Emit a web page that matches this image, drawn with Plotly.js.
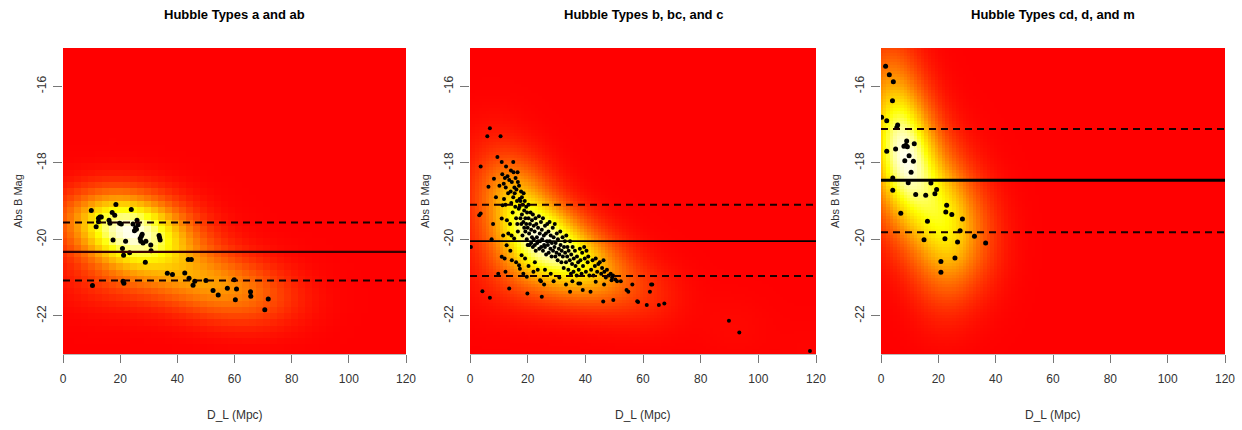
<!DOCTYPE html>
<html>
<head>
<meta charset="utf-8">
<script src="https://cdn.plot.ly/plotly-3.0.1.min.js"></script>
<style>html,body{margin:0;padding:0;background:#fff;}#chart{width:1242px;height:430px;}</style>
</head>
<body>
<div id="chart"></div>
<script>
// ---------- DATA ----------
var panelTitles = ["Hubble Types a and ab", "Hubble Types b, bc, and c", "Hubble Types cd, d, and m"];
var xTickVals = [0, 20, 40, 60, 80, 100, 120];
var xTickText = ["0", "20", "40", "60", "80", "100", "120"];
var yTickVals = [-16, -18, -20, -22];
var yTickText = ["-16", "-18", "-20", "-22"];
var xAxisLabel = "D_L (Mpc)";
var yAxisLabel = "Abs B Mag";

// Panel 1: types a and ab
var x1 = [9.9,10.3,11.6,12.4,12.9,13.4,12.4,16.1,16.4,17.2,17.5,18.1,18.5,19.8,20.4,20.8,21.2,21.0,21.3,21.9,
          23.3,23.9,24.5,25.0,25.4,25.7,25.9,26.3,27.0,27.4,27.7,28.0,27.2,29.0,28.8,30.7,30.8,33.6,33.8,34.0,
          36.5,38.3,42.6,43.8,44.9,44.1,45.5,46.1,50.0,52.5,54.3,57.5,59.9,60.3,60.7,65.6,65.7,70.6,71.8];
var y1 = [-19.25,-21.21,-19.67,-19.45,-19.42,-19.42,-19.54,-19.5,-19.58,-19.3,-20.02,-19.37,-19.09,-19.58,-19.6,-20.24,-20.42,-21.1,-21.15,-20.05,
          -20.35,-19.22,-19.6,-19.78,-19.7,-19.74,-19.5,-19.62,-19.98,-19.92,-19.87,-20.1,-20.05,-20.05,-20.6,-20.15,-20.3,-19.9,-19.96,-20.02,
          -20.89,-20.92,-20.88,-20.53,-20.53,-21.02,-21.2,-21.1,-21.08,-21.34,-21.46,-21.28,-21.06,-21.58,-21.3,-21.37,-21.49,-21.84,-21.56];

// Panel 2: types b, bc and c
var x2 = [
  0.3,3.7,3.2,3.7,4.3,6.0,6.4,6.9,6.9,8.3,9.5,9.8,10.6,11.0,11.0,11.0,11.3,12.3,12.7,13.3,
  13.6,14.5,15.0,15.3,17.0,17.3,17.9,19.1,19.7,19.9,22.0,24.3,24.6,24.9,25.7,33.3,34.7,37.6,38.2,39.1,
  41.8,43.6,46.2,46.5,49.7,49.1,52.3,54.3,54.9,56.3,58.0,58.3,61.3,62.4,62.8,63.2,65.5,67.4,89.8,93.4,117.9,
  11.5,12.0,14.0,16.0,18.5,20.3,22.5,23.5,26.0,28.0,29.0,31.0,35.5,
  12.5,14.2,16.5,10.2,9.0,8.0,7.5,
  11.2,11.7,12.1,12.4,13.0,11.8,12.3,12.8,13.2,
  13.6,14.1,14.3,14.5,14.8,15.0,13.9,14.4,
  15.1,15.4,15.5,15.7,15.8,16.0,16.1,16.3,16.4,16.6,16.6,16.9,
  17.0,17.2,17.2,17.5,17.5,17.7,17.8,18.0,18.0,18.2,18.3,18.5,18.6,18.8,18.8,
  19.0,19.2,19.2,19.5,19.5,19.7,19.8,20.0,20.0,20.3,20.3,20.5,20.6,20.8,
  21.0,21.2,21.2,21.5,21.5,21.8,21.8,22.1,22.1,22.4,22.5,22.7,22.8,
  23.0,23.2,23.3,23.6,23.6,23.9,24.0,24.2,24.3,24.6,24.7,24.9,
  25.0,25.3,25.3,25.6,25.7,26.0,26.0,26.3,26.4,26.7,26.8,
  27.0,27.2,27.3,27.6,27.6,27.9,28.0,28.3,28.4,28.7,28.8,
  29.0,29.3,29.4,29.6,29.7,30.0,30.1,30.4,30.5,30.8,
  31.0,31.3,31.4,31.7,31.8,32.1,32.2,32.5,32.6,32.9,
  33.0,33.3,33.4,33.7,33.8,34.1,34.2,34.6,34.7,35.0,
  35.1,35.4,35.6,35.9,36.0,36.4,36.6,37.0,
  37.1,37.5,37.7,38.1,38.3,38.7,38.9,
  39.2,39.6,39.8,40.2,40.4,40.8,41.0,41.4,
  42.0,42.5,42.8,43.3,43.6,44.1,44.5,
  45.0,45.5,45.8,46.3,46.6,47.1,47.5,48.1,
  48.8,49.3,49.6,50.4,51.0];
var y2 = [
  -20.2,-18.1,-19.37,-19.33,-21.36,-17.31,-18.63,-17.1,-21.53,-18.42,-17.85,-20.9,-17.31,-17.98,-19.46,-20.46,-19.11,-20.85,-20.16,-19.85,
  -21.29,-20.55,-17.98,-19.98,-20.68,-20.77,-20.42,-20.5,-20.98,-21.42,-20.85,-21.07,-21.1,-21.5,-21.18,-21.18,-21.37,-21.16,-21.16,-21.33,
  -21.37,-21.11,-21.63,-21.18,-21.59,-21.07,-21.1,-21.33,-21.37,-21.18,-21.62,-21.64,-21.72,-21.37,-21.18,-21.18,-21.72,-21.68,-22.13,-22.44,-22.92,
  -19.9,-20.5,-20.3,-20.6,-20.9,-20.7,-20.6,-20.8,-20.8,-20.9,-21.1,-21.0,-21.1,
  -18.1,-18.2,-18.25,-18.6,-18.9,-19.6,-20.0,
  -18.3,-18.55,-18.4,-18.65,-18.35,-18.95,-19.1,-19.5,-18.8,
  -18.45,-18.75,-19.05,-18.5,-19.3,-18.9,-19.6,-19.9,
  -18.25,-18.65,-18.8,-19.15,-18.4,-19.45,-18.7,-19.0,-19.6,-18.5,-19.8,-19.2,
  -18.6,-18.95,-19.15,-19.45,-19.0,-18.75,-19.6,-19.35,-18.9,-19.9,-19.1,-19.55,-18.8,-19.7,-19.25,
  -19.0,-19.45,-19.8,-19.15,-19.6,-20.0,-19.3,-19.7,-20.15,-19.45,-19.1,-19.85,-20.15,-19.6,
  -19.3,-19.75,-20.1,-19.5,-19.95,-20.2,-19.35,-19.65,-20.0,-19.8,-20.15,-19.45,-20.3,
  -19.6,-19.95,-20.1,-19.7,-20.05,-19.4,-20.25,-19.85,-20.05,-19.55,-20.2,-19.75,
  -20.0,-19.45,-20.3,-19.9,-20.15,-19.65,-20.2,-19.85,-20.4,-20.05,-19.6,
  -20.15,-19.8,-20.35,-19.55,-20.05,-20.25,-19.9,-20.45,-20.1,-19.7,-20.3,
  -19.95,-20.2,-19.6,-20.45,-20.1,-20.35,-19.85,-20.55,-20.0,-20.25,
  -20.4,-19.8,-20.15,-20.6,-20.3,-19.95,-20.45,-20.75,-20.2,-20.05,
  -20.35,-20.6,-19.9,-20.45,-20.2,-20.8,-20.3,-20.55,-20.05,-20.9,
  -20.4,-20.65,-20.2,-20.85,-20.5,-20.3,-20.7,-20.95,
  -20.45,-20.6,-20.8,-20.25,-20.55,-20.9,-20.35,
  -20.7,-20.2,-20.5,-20.85,-20.3,-20.6,-20.45,-20.95,
  -20.8,-20.55,-20.95,-20.7,-20.5,-20.85,-20.65,
  -20.6,-20.9,-20.75,-20.55,-20.85,-21.0,-20.8,-20.95,
  -20.9,-21.0,-20.95,-21.05,-21.1];

// Panel 3: types cd, d and m
var x3 = [0.2,1.6,2.0,2.0,2.9,4.0,4.3,4.1,4.1,5.1,5.8,5.5,6.9,8.0,8.3,8.7,8.95,9.2,9.5,9.8,
          10.5,11.3,11.6,12.1,15.0,15.6,16.2,17.4,18.8,19.4,20.9,20.9,22.3,22.6,22.9,24.7,25.8,26.7,27.6,28.4,32.6,36.5];
var y3 = [-16.81,-15.48,-16.90,-17.70,-15.70,-16.38,-15.88,-18.40,-18.72,-17.64,-17.01,-17.08,-19.32,-17.57,-17.95,-17.54,-17.43,-17.58,-18.52,-17.82,
          -18.25,-17.96,-17.5,-18.83,-20.01,-18.85,-19.53,-18.53,-18.81,-18.70,-20.58,-20.86,-19.99,-19.29,-19.11,-19.35,-20.49,-20.07,-19.78,-19.47,-19.92,-20.10];

// mean and +/- one sigma lines of each panel
var meanLine  = [-20.33, -20.05, -18.46];
var upperLine = [-19.56, -19.10, -17.12];
var lowerLine = [-21.08, -20.96, -19.82];

// ---------- DENSITY (kde2d-like, built from the points) ----------
function quantile(arr, p) {
  var s = arr.slice().sort(function(a,b){return a-b;});
  var h = (s.length - 1) * p, lo = Math.floor(h), hi = Math.ceil(h);
  return s[lo] + (h - lo) * (s[hi] - s[lo]);
}
function sd(arr) {
  var m = arr.reduce(function(a,b){return a+b;},0)/arr.length;
  var v = arr.reduce(function(a,b){return a+(b-m)*(b-m);},0)/(arr.length-1);
  return Math.sqrt(v);
}
function bw(arr) { // bandwidth.nrd / 4
  var r = (quantile(arr,0.75) - quantile(arr,0.25)) / 1.34;
  return 1.06 * Math.min(sd(arr), r) * Math.pow(arr.length, -0.2);
}
function kde(xs, ys, n, scale) {
  var hx = bw(xs) * scale, hy = bw(ys) * scale;
  var gx = [], gy = [], z = [];
  for (var i = 0; i < n; i++) gx.push(0 + 120 * i / (n - 1));
  for (var j = 0; j < n; j++) gy.push(-23 + 8 * j / (n - 1));
  for (var j2 = 0; j2 < n; j2++) {
    var row = [];
    for (var i2 = 0; i2 < n; i2++) {
      var s = 0;
      for (var k = 0; k < xs.length; k++) {
        var dx = (gx[i2] - xs[k]) / hx, dy = (gy[j2] - ys[k]) / hy;
        s += Math.exp(-0.5 * (dx*dx + dy*dy));
      }
      row.push(s / (xs.length * hx * hy * 2 * Math.PI));
    }
    z.push(row);
  }
  return {x: gx, y: gy, z: z};
}

var heatScale = [[0,'rgb(255,0,0)'],[0.375,'rgb(255,128,0)'],[0.72,'rgb(255,255,0)'],[0.86,'rgb(255,255,128)'],[1,'rgb(255,255,240)']];

var panels = [
  {x: x1, y: y1, n: 50, ms: 5, bws: 1.55},
  {x: x2, y: y2, n: 100, ms: 4, bws: 1.7},
  {x: x3, y: y3, n: 100, ms: 5, bws: 1.5}
];
var xDomains = [[63/1242, 406/1242], [470/1242, 816/1242], [881/1242, 1225/1242]];
var yDomain = [1 - 354/430, 1 - 48/430];

var traces = [];
var layout = {
  width: 1242, height: 430,
  margin: {l: 0, r: 0, t: 0, b: 0},
  paper_bgcolor: '#ffffff', plot_bgcolor: '#ff0000',
  showlegend: false,
  font: {family: 'Liberation Sans, Arial, sans-serif', size: 11, color: '#333'},
  annotations: []
};

panels.forEach(function(p, idx) {
  var sfx = idx === 0 ? '' : String(idx + 1);
  var xa = 'x' + sfx, ya = 'y' + sfx;
  var d = kde(p.x, p.y, p.n, p.bws);
  traces.push({type: 'heatmap', x: d.x, y: d.y, z: d.z, colorscale: heatScale,
               showscale: false, zsmooth: false, hoverinfo: 'skip', xaxis: xa, yaxis: ya});
  traces.push({type: 'scatter', mode: 'markers', x: p.x, y: p.y, xaxis: xa, yaxis: ya,
               marker: {color: '#000', size: p.ms, line: {width: 0}}, hoverinfo: 'x+y'});
  var lw = [2.2, 1.6, 3][idx];
  traces.push({type: 'scatter', mode: 'lines', x: [0, 120], y: [meanLine[idx], meanLine[idx]],
               xaxis: xa, yaxis: ya, line: {color: idx === 0 ? '#3a0000' : '#000', width: lw}, hoverinfo: 'skip'});
  [upperLine[idx], lowerLine[idx]].forEach(function(v) {
    traces.push({type: 'scatter', mode: 'lines', x: [0, 120], y: [v, v], xaxis: xa, yaxis: ya,
                 line: {color: '#1a0000', width: 2, dash: '7px,5px'}, hoverinfo: 'skip'});
  });
  layout['xaxis' + sfx] = {
    domain: xDomains[idx], range: [0, 120], anchor: ya, fixedrange: true,
    tickmode: 'array', tickvals: xTickVals, ticktext: xTickText,
    ticks: 'outside', ticklen: 8, tickwidth: 1, tickcolor: '#777',
    showline: true, linecolor: '#bbb', linewidth: 1, showgrid: false, zeroline: false,
    ticklabelstandoff: 6, tickfont: {size: 12, color: '#333'}
  };
  layout['yaxis' + sfx] = {
    domain: yDomain, range: [-23, -15], anchor: xa, fixedrange: true,
    tickmode: 'array', tickvals: yTickVals, ticktext: yTickText,
    ticks: 'outside', ticklen: 9, tickwidth: 1, tickcolor: '#777', tickangle: -90,
    showline: false, showgrid: false, zeroline: false,
    ticklabelstandoff: 2, tickfont: {size: 12, color: '#333'}
  };
  var cx = (xDomains[idx][0] + xDomains[idx][1]) / 2;
  layout.annotations.push({text: '<b>' + panelTitles[idx] + '</b>', xref: 'paper', yref: 'paper',
    x: cx, y: 1 - 15/430, xanchor: 'center', yanchor: 'middle', showarrow: false,
    font: {size: 13, color: '#000'}});
  layout.annotations.push({text: xAxisLabel, xref: 'paper', yref: 'paper',
    x: cx, y: 1 - 415/430, xanchor: 'center', yanchor: 'middle', showarrow: false,
    font: {size: 12, color: '#333'}});
  var yx = [18, 425, 835][idx];
  layout.annotations.push({text: yAxisLabel, xref: 'paper', yref: 'paper', textangle: -90,
    x: yx/1242, y: 1 - 201/430, xanchor: 'center', yanchor: 'middle', showarrow: false,
    font: {size: 11, color: '#333'}});
});

Plotly.newPlot('chart', traces, layout, {displayModeBar: false, staticPlot: true});
</script>
</body>
</html>
